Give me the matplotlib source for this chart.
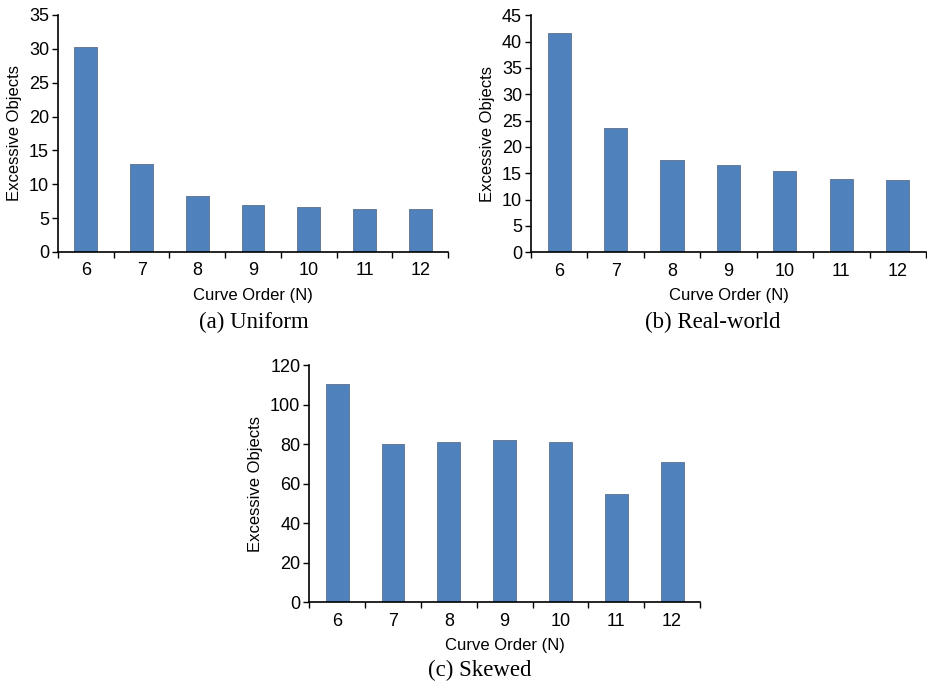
import numpy as np
import matplotlib
matplotlib.use('Agg')
import matplotlib.pyplot as plt

orders = ['6', '7', '8', '9', '10', '11', '12']
uniform = [30.3, 13.0, 8.3, 7.0, 6.6, 6.3, 6.4]
real_world = [41.6, 23.7, 17.5, 16.5, 15.4, 14.0, 13.8]
skewed = [110.7, 80.0, 81.2, 82.2, 81.2, 55.0, 71.2]

plt.rcParams['font.family'] = ['Liberation Sans', 'DejaVu Sans']

fig = plt.figure(figsize=(9.28, 6.84), dpi=100)


def draw(rect, values, ymax, ystep, caption, cap_xy):
    ax = fig.add_axes(rect)
    x = np.arange(len(orders))
    ax.bar(x, values, width=0.41, color='#4F81BD', edgecolor='#5b6f8a',
           linewidth=0.6, zorder=2)
    ax.set_xlim(-0.5, len(orders) - 0.5)
    ax.set_ylim(0, ymax)
    ax.set_yticks(np.arange(0, ymax + 1, ystep))
    ax.set_xticks(x)
    ax.set_xticklabels(orders)
    ax.set_xticks(np.arange(-0.5, len(orders)), minor=True)
    ax.tick_params(axis='x', which='major', length=0, pad=7.5, labelsize=13)
    ax.tick_params(axis='x', which='minor', length=4, width=1, direction='out')
    ax.tick_params(axis='y', length=4, width=1, pad=2.5, labelsize=13)
    for s in ['top', 'right']:
        ax.spines[s].set_visible(False)
    for s in ['left', 'bottom']:
        ax.spines[s].set_linewidth(1.2)
    ax.set_xlabel('Curve Order (N)', fontsize=12, labelpad=6)
    ax.set_ylabel('Excessive Objects', fontsize=12, labelpad=5)
    fig.text(cap_xy[0], cap_xy[1], caption, ha='center', va='center',
             fontsize=16.5, family='Liberation Serif')
    return ax


draw([0.0625, 0.6316, 0.4203, 0.3465], uniform, 35, 5, '(a) Uniform',
     (254 / 928, 1 - 322 / 684))
draw([0.5722, 0.6311, 0.4256, 0.3465], real_world, 45, 5, '(b) Real-world',
     (713 / 928, 1 - 322 / 684))
draw([0.3333, 0.1194, 0.4210, 0.3465], skewed, 120, 20, '(c) Skewed',
     (480 / 928, 1 - 670 / 684))

plt.savefig('out.png', dpi=100)
